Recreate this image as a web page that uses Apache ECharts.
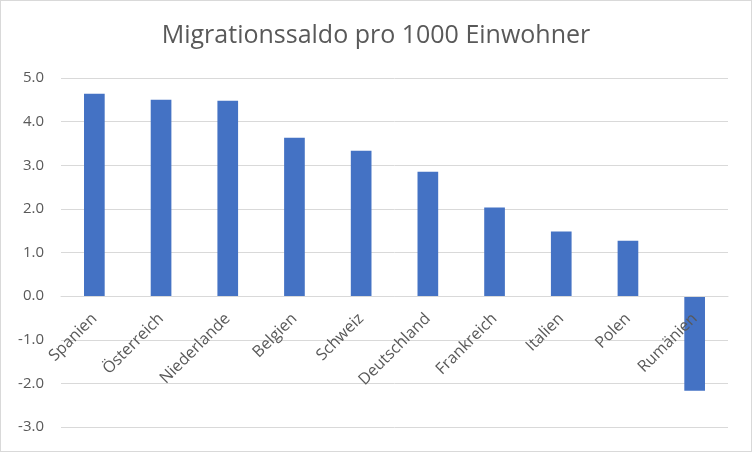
<!DOCTYPE html>
<html><head><meta charset="utf-8">
<script src="https://cdn.jsdelivr.net/npm/echarts@6/dist/echarts.min.js"></script>
<style>
html,body{margin:0;padding:0;background:#fff;}
#c{width:750px;height:450px;border:1px solid #d9d9d9;}
</style></head>
<body><div id="c"></div>
<script>
const titleText = 'Migrationssaldo pro 1000 Einwohner';
const categories = ['Spanien','Österreich','Niederlande','Belgien','Schweiz','Deutschland','Frankreich','Italien','Polen','Rumänien'];
const values = [4.64, 4.50, 4.48, 3.63, 3.33, 2.85, 2.03, 1.48, 1.27, -2.17];
const yTicks = [-3, -2, -1, 0, 1, 2, 3, 4, 5];

const gridTop = 77, gridBottom = 24, H = 450;
const yMin = yTicks[0], yMax = yTicks[yTicks.length-1];
const gridH = H - gridTop - gridBottom;
const zeroOffset = -gridH * (0 - yMin) / (yMax - yMin);

const chart = echarts.init(document.getElementById('c'));
chart.setOption({
  animation: false,
  title: {
    text: titleText, left: 'center', top: 17,
    textStyle: {fontFamily: 'Open Sans', fontSize: 25, fontWeight: 'normal', color: '#595959'}
  },
  grid: {left: 60, right: 23, top: gridTop, bottom: gridBottom, containLabel: false},
  xAxis: {
    type: 'category', data: categories, position: 'bottom', offset: zeroOffset, z: 5,
    axisLine: {onZero: false, lineStyle: {color: '#d9d9d9', width: 1}},
    axisTick: {show: false},
    axisLabel: {rotate: 45, color: '#595959', fontFamily: 'Open Sans', fontSize: 16, margin: 20, interval: 0}
  },
  yAxis: {
    type: 'value', min: yMin, max: yMax, interval: 1,
    axisLine: {show: false}, axisTick: {show: false},
    splitLine: {lineStyle: {color: '#d9d9d9', width: 1}},
    axisLabel: {color: '#595959', fontFamily: 'Open Sans', fontSize: 15, margin: 17,
      formatter: v => v.toFixed(1)}
  },
  series: [{
    type: 'bar', data: values, barWidth: '31%', z: 2,
    itemStyle: {color: '#4472c4'}
  }]
});
</script></body></html>
